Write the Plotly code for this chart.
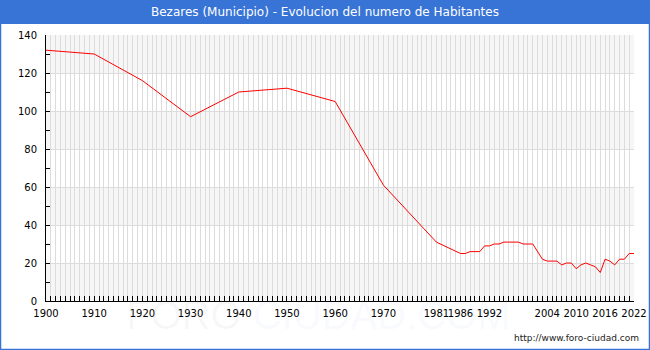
import plotly.graph_objects as go

# ---- data ----
years = [1900, 1910, 1920, 1930, 1940, 1950, 1960, 1970, 1981, 1986, 1987, 1988,
         1990, 1991, 1992, 1993, 1994, 1995, 1996, 1998, 1999, 2000, 2001, 2003,
         2004, 2005, 2006, 2007, 2008, 2009, 2010, 2011, 2012, 2013, 2014, 2015,
         2016, 2017, 2018, 2019, 2020, 2021, 2022]
population = [132, 130, 116, 97, 110, 112, 105, 61, 31, 25, 25, 26,
              26, 29, 29, 30, 30, 31, 31, 31, 30, 30, 30, 22,
              21, 21, 21, 19, 20, 20, 17, 19, 20, 19, 18, 15,
              22, 21, 19, 22, 22, 25, 25]
x_tick_labels = [1900, 1910, 1920, 1930, 1940, 1950, 1960, 1970, 1981, 1986, 1992,
                 2004, 2010, 2016, 2022]
y_tick_values = [0, 20, 40, 60, 80, 100, 120, 140]

title_text = "Bezares (Municipio) - Evolucion del numero de Habitantes"
source_text = "http://www.foro-ciudad.com"
watermark_html = ("<span style='color:rgba(128,128,128,0.26)'>FORO</span> "
                  "<span style='color:rgba(64,96,224,0.2)'>CIUDAD.COM</span>")

# ---- layout geometry ----
W, H = 650, 350
ML, MR, MT, MB = 46, 16, 35, 49
PW, PH = W - ML - MR, H - MT - MB
BLUE = "#3873d6"
FONT = "DejaVu Sans"
GRID = "#dcdcdc"


def px_x(px):
    return (px - ML) / PW


def px_y(py):
    return (H - MB - py) / PH


fig = go.Figure()
fig.add_trace(go.Scatter(x=years, y=population, mode="lines",
                         line=dict(color="#ff0000", width=1),
                         hoverinfo="x+y", showlegend=False))

shapes = []
# alternating horizontal bands
for lo in range(0, 140, 40):
    shapes.append(dict(type="rect", xref="paper", yref="y", x0=0, x1=1,
                       y0=lo, y1=lo + 20, fillcolor="#f6f6f6",
                       line=dict(width=0), layer="below"))
# title bar
shapes.append(dict(type="rect", xref="paper", yref="paper",
                   x0=px_x(0), x1=px_x(W), y0=px_y(24), y1=px_y(0),
                   fillcolor=BLUE, line=dict(width=0), layer="above"))
# outer border
shapes.append(dict(type="rect", xref="paper", yref="paper",
                   x0=px_x(0.5), x1=px_x(W - 0.5), y0=px_y(H - 0.5), y1=px_y(0.5),
                   line=dict(color=BLUE, width=1.5), layer="above"))

annotations = [
    dict(text=watermark_html, xref="paper", yref="paper", x=px_x(318), y=px_y(315),
         xanchor="center", yanchor="middle", showarrow=False,
         font=dict(family="Liberation Sans", size=40,
                   color="rgba(128,128,128,0.26)")),
    dict(text=title_text, xref="paper", yref="paper", x=px_x(W / 2), y=px_y(12),
         xanchor="center", yanchor="middle", showarrow=False,
         font=dict(family=FONT, size=12, color="white")),
    dict(text=source_text, xref="paper", yref="paper", x=px_x(641), y=px_y(338),
         xanchor="right", yanchor="middle", showarrow=False,
         font=dict(family=FONT, size=9, color="#222222")),
]

fig.update_layout(
    width=W, height=H,
    margin=dict(l=ML, r=MR, t=MT, b=MB, pad=0, autoexpand=False),
    paper_bgcolor="white", plot_bgcolor="white",
    shapes=shapes, annotations=annotations,
    font=dict(family=FONT, size=10, color="#000000"),
    xaxis=dict(range=[1900, 2022], tickmode="array", tickvals=x_tick_labels,
               ticktext=[str(v) for v in x_tick_labels], tickangle=0,
               automargin=False,
               ticks="inside", ticklen=5, tickcolor="#000", tickwidth=1,
               showgrid=True, gridcolor=GRID, gridwidth=1,
               showline=True, linecolor="#000", linewidth=1,
               zeroline=False, ticklabelstandoff=3,
               minor=dict(tickmode="linear", tick0=1900, dtick=1, ticks="inside",
                          ticklen=5, tickcolor="#000", showgrid=True,
                          gridcolor=GRID, gridwidth=1),
               tickfont=dict(family=FONT, size=10)),
    yaxis=dict(range=[0, 140], tickmode="array", tickvals=y_tick_values,
               automargin=False,
               ticks="inside", ticklen=4, tickcolor="#000", tickwidth=1,
               showgrid=True, gridcolor=GRID, gridwidth=1,
               showline=True, linecolor="#000", linewidth=1,
               zeroline=False, ticklabelstandoff=6,
               minor=dict(tickmode="linear", tick0=0, dtick=10, ticks="inside",
                          ticklen=4, tickcolor="#000", showgrid=False),
               tickfont=dict(family=FONT, size=10)),
)

fig.write_html("out.html")
